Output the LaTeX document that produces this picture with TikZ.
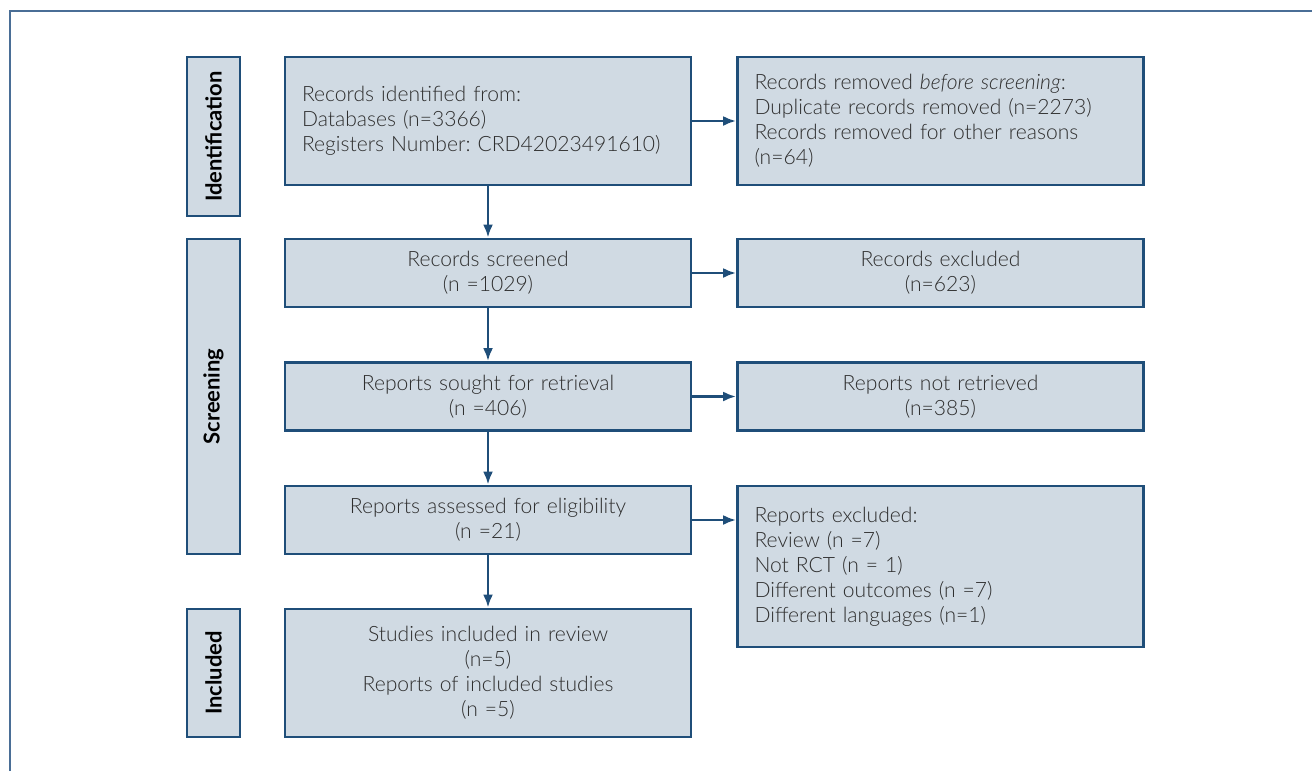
\documentclass[tikz,border=0pt]{standalone}
\usepackage{fontspec}
\setmainfont{Lato}[UprightFont=* Light, ItalicFont=* Light Italic, BoldFont=* Bold]
\usetikzlibrary{arrows.meta}
\definecolor{boxblue}{HTML}{1F4E79}
\definecolor{boxfill}{HTML}{D0DAE3}
\definecolor{framecol}{HTML}{4A6E96}
\definecolor{txt}{HTML}{2E2E2E}
\tikzset{
  box/.style={draw=boxblue, fill=boxfill, line width=1.6pt, text=txt,
    font=\fontsize{12}{14.2}\selectfont\frenchspacing, inner sep=0pt, inner xsep=0.34cm,
    text width=7.44cm, minimum width=8.12cm},
  lbox/.style={box, align=left},
  cbox/.style={box, align=center},
  phase/.style={draw=boxblue, fill=boxfill, line width=1.6pt, text=black,
    font=\fontsize{12.5}{14}\selectfont\bfseries, rotate=90, inner sep=0pt,
    minimum height=1.06cm},
  arr/.style={->, draw=boxblue, line width=1.6pt}
}
\begin{document}
\begin{tikzpicture}[>={Latex[length=0.26cm,width=0.2cm]}, x=0.02cm, y=-0.02cm]
    \useasboundingbox (0,0) rectangle (1312,771);
    \draw[framecol, line width=1.1pt](10,771)--(10,11)--(1312,11);
    % phases
    \node[phase, minimum width=3.18cm] (pid) at (213.5,136.5) {Identification};
    \node[phase, minimum width=6.3cm] (pscr) at (213.5,396.5) {Screening};
    \node[phase, minimum width=2.56cm] (pinc) at (213.5,673) {Included};
    % main column
    \node[lbox, minimum height=2.56cm] (ident) at (488,121) {Records identified from:\\Databases (n=3366)\\Registers Number: CRD42023491610)};
    \node[cbox, minimum height=1.36cm] (screened) at (488,273) {Records screened\\(n =1029)};
    \node[cbox, minimum height=1.36cm] (sought) at (488,396.5) {Reports sought for retrieval\\(n =406)};
    \node[cbox, minimum height=1.36cm] (assessed) at (488,520) {Reports assessed for eligibility\\(n =21)};
    \node[cbox, minimum height=2.56cm] (incl) at (488,673) {Studies included in review\\(n=5)\\Reports of included studies\\(n =5)};
    % right column
    \node[lbox, minimum height=2.56cm] (removed) at (940.5,121) {Records removed \textit{before screening}:\\Duplicate records removed (n=2273)\\Records removed for other reasons\\(n=64)};
    \node[cbox, minimum height=1.36cm] (excl) at (940.5,273) {Records excluded\\(n=623)};
    \node[cbox, minimum height=1.36cm] (notret) at (940.5,396.5) {Reports not retrieved\\(n=385)};
    \node[lbox, minimum height=3.22cm] (repexcl) at (940.5,566.5) {Reports excluded:\\Review (n =7)\\Not RCT (n = 1)\\Different outcomes (n =7)\\Different languages (n=1)};
    % arrows
    \draw[arr](ident)--(screened);
    \draw[arr](screened)--(sought);
    \draw[arr](sought)--(assessed);
    \draw[arr](assessed)--(incl);
    \draw[arr](ident)--(removed);
    \draw[arr](screened)--(excl);
    \draw[arr](sought)--(notret);
    \draw[arr](assessed.east)--(repexcl.west |- assessed.east);
\end{tikzpicture}
\end{document}
